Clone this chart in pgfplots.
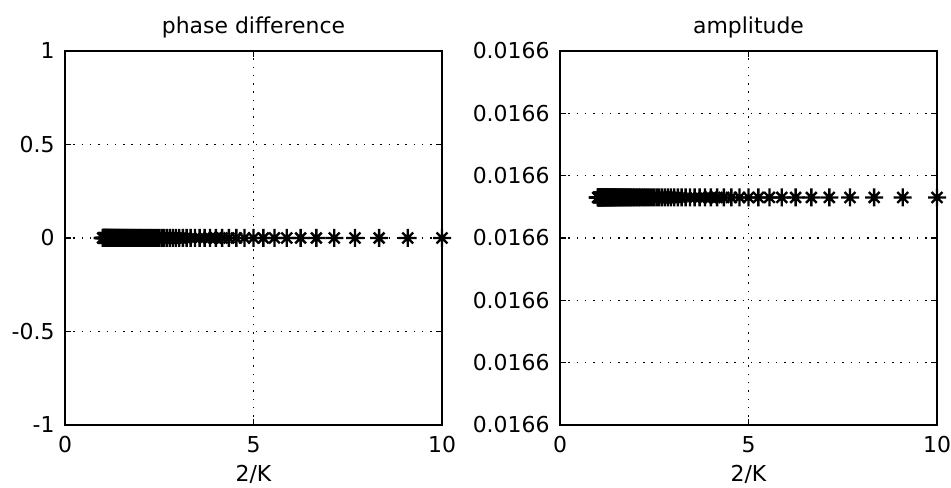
\documentclass[border=0pt]{standalone}
\usepackage{pgfplots}
\pgfplotsset{compat=1.18}
\usepackage{pgfplotstable}
\usepackage{fontspec}
\setmainfont{DejaVu Sans}

% MATLAB-style asterisk: a plus overlaid with a shorter cross
\pgfdeclareplotmark{mstar}{%
  \pgfpathmoveto{\pgfqpoint{-\pgfplotmarksize}{0pt}}%
  \pgfpathlineto{\pgfqpoint{\pgfplotmarksize}{0pt}}%
  \pgfpathmoveto{\pgfqpoint{0pt}{-\pgfplotmarksize}}%
  \pgfpathlineto{\pgfqpoint{0pt}{\pgfplotmarksize}}%
  \pgfpathmoveto{\pgfqpoint{-0.6\pgfplotmarksize}{-0.6\pgfplotmarksize}}%
  \pgfpathlineto{\pgfqpoint{0.6\pgfplotmarksize}{0.6\pgfplotmarksize}}%
  \pgfpathmoveto{\pgfqpoint{-0.6\pgfplotmarksize}{0.6\pgfplotmarksize}}%
  \pgfpathlineto{\pgfqpoint{0.6\pgfplotmarksize}{-0.6\pgfplotmarksize}}%
  \pgfusepathqstroke}

% x = 2/K, phase difference, amplitude (relative position within the 0.0166 band)
\pgfplotstableread{
x       phase amp
10      0 3.65
9.0909  0 3.65
8.3333  0 3.65
7.6923  0 3.65
7.1429  0 3.65
6.6667  0 3.65
6.25    0 3.65
5.8824  0 3.65
5.5556  0 3.65
5.2632  0 3.65
5       0 3.65
4.7619  0 3.65
4.5455  0 3.65
4.3478  0 3.65
4.1667  0 3.65
4       0 3.65
3.8462  0 3.65
3.7037  0 3.65
3.5714  0 3.65
3.4483  0 3.65
3.3333  0 3.65
3.2258  0 3.65
3.125   0 3.65
3.0303  0 3.65
2.9412  0 3.65
2.8571  0 3.65
2.7778  0 3.65
2.7027  0 3.65
2.6316  0 3.65
2.5641  0 3.65
2.5     0 3.65
2.4390  0 3.65
2.3810  0 3.65
2.3256  0 3.65
2.2727  0 3.65
2.2222  0 3.65
2.1739  0 3.65
2.1277  0 3.65
2.0833  0 3.65
2.0408  0 3.65
2       0 3.65
1.9608  0 3.65
1.9231  0 3.65
1.8868  0 3.65
1.8519  0 3.65
1.8182  0 3.65
1.7857  0 3.65
1.7544  0 3.65
1.7241  0 3.65
1.6949  0 3.65
1.6667  0 3.65
1.6393  0 3.65
1.6129  0 3.65
1.5873  0 3.65
1.5625  0 3.65
1.5385  0 3.65
1.5152  0 3.65
1.4925  0 3.65
1.4706  0 3.65
1.4493  0 3.65
1.4286  0 3.65
1.4085  0 3.65
1.3889  0 3.65
1.3699  0 3.65
1.3514  0 3.65
1.3333  0 3.65
1.3158  0 3.65
1.2987  0 3.65
1.2821  0 3.65
1.2658  0 3.65
1.25    0 3.65
1.2346  0 3.65
1.2195  0 3.65
1.2048  0 3.65
1.1905  0 3.65
1.1765  0 3.65
1.1628  0 3.65
1.1494  0 3.65
1.1364  0 3.65
1.1236  0 3.65
1.1111  0 3.65
1.0989  0 3.65
1.0870  0 3.65
1.0753  0 3.65
1.0638  0 3.65
1.0526  0 3.65
1.0417  0 3.65
1.0309  0 3.65
1.0204  0 3.65
1.0101  0 3.65
1       0 3.65
}\datatable

\pgfplotsset{
  mlab/.style={
    scale only axis,
    width=377bp, height=374bp,
    xmin=0, xmax=10,
    xtick={0,5,10},
    xticklabels={0,5,10},
    axis line style={line width=1.4bp},
    tick style={line width=1.4bp, black},
    major tick length=6bp,
    tick align=inside,
    grid=major,
    major grid style={black, line width=1.5bp, dash pattern=on 1.5bp off 6.8bp},
    tick label style={font=\fontsize{22}{25}\selectfont},
    label style={font=\fontsize{22}{25}\selectfont},
    title style={font=\fontsize{22}{25}\selectfont, at={(0.5,1)}, anchor=south, yshift=3bp},
    xlabel={2/K},
    xlabel style={at={(0.5,0)}, anchor=north, yshift=-37bp},
    xticklabel style={yshift=-8bp},
    yticklabel style={xshift=-7bp},
  },
}

\begin{document}
\begin{tikzpicture}[x=1bp,y=1bp]
\useasboundingbox (0,0) rectangle (951,488);

\begin{axis}[mlab,
  at={(65bp,63bp)}, anchor=south west,
  title={phase difference},
  ymin=-1, ymax=1,
  ytick={-1,-0.5,0,0.5,1},
  yticklabels={-1,-0.5,0,0.5,1},
]
\addplot[only marks, mark=mstar, mark size=9bp, line width=2.4bp, black]
  table[x=x, y=phase] {\datatable};
\end{axis}

\begin{axis}[mlab,
  at={(560bp,63bp)}, anchor=south west,
  title={amplitude},
  ymin=0, ymax=6,
  ytick={0,1,2,3,4,5,6},
  yticklabels={0.0166,0.0166,0.0166,0.0166,0.0166,0.0166,0.0166},
]
\addplot[only marks, mark=mstar, mark size=9bp, line width=2.4bp, black]
  table[x=x, y=amp] {\datatable};
\end{axis}
\end{tikzpicture}
\end{document}
